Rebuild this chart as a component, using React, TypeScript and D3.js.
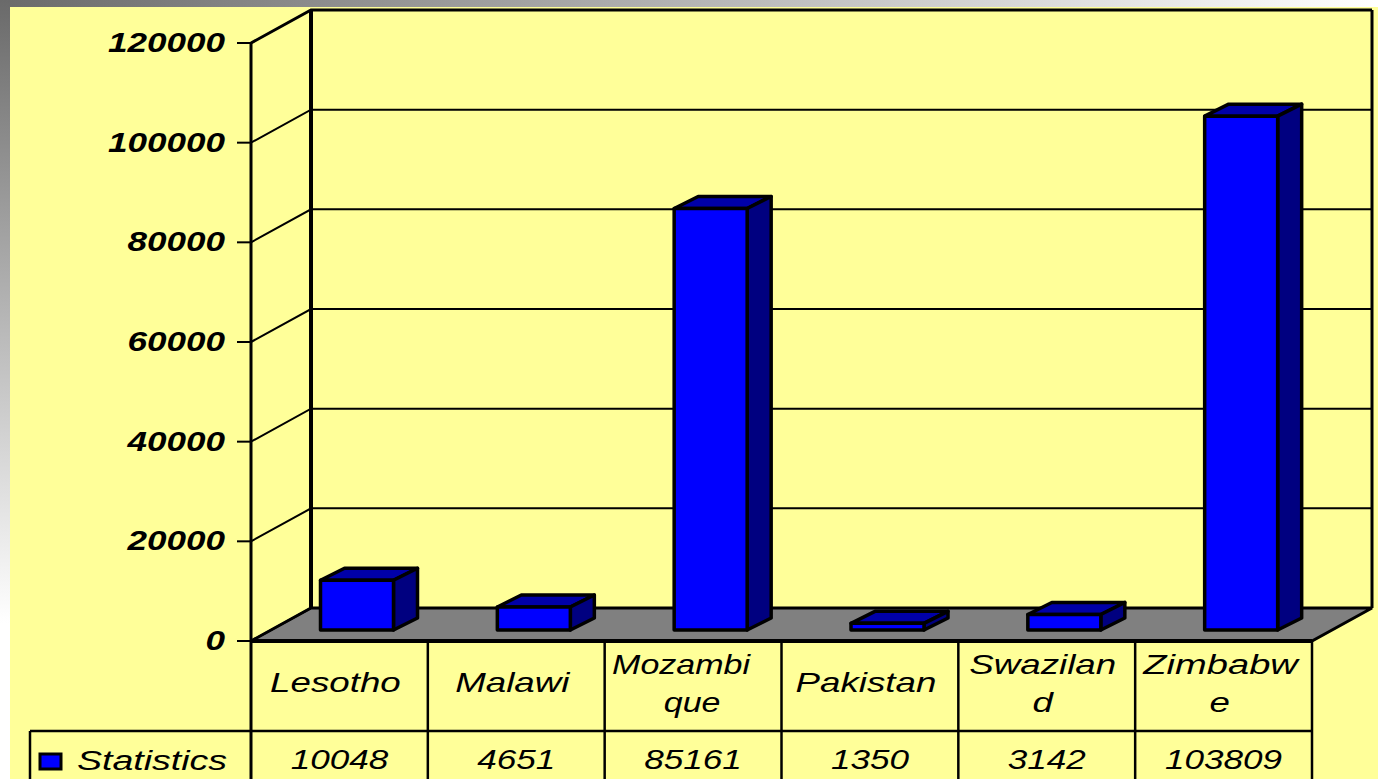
import * as d3 from 'd3';

const categories = ['Lesotho', 'Malawi', 'Mozambique', 'Pakistan', 'Swaziland', 'Zimbabwe'];
const categoryLines = [['Lesotho'], ['Malawi'], ['Mozambi', 'que'], ['Pakistan'], ['Swazilan', 'd'], ['Zimbabw', 'e']];
const statistics = [10048, 4651, 85161, 1350, 3142, 103809];
const yTicks = [0, 20000, 40000, 60000, 80000, 100000, 120000];
const seriesName = 'Statistics';

const width = 1378;
const height = 779;
const font = "'Liberation Sans', Arial, sans-serif";

// 3d offsets: wall depth and bar depth
const wallDx = 60;
const wallDy = -33;
const barDx = 24;
const barDy = -12;
const barInset = 69.5;
const barWidth = 73;

const x = d3.scaleBand<string>().domain(categories).range([251, 1312]);
const y = d3.scaleLinear().domain([0, 120000]).range([641, 43]);
// bars stand a bit forward on the floor, so they get their own scale
const yBar = d3.scaleLinear().domain([0, 120000]).range([630, 36]);
const pts = (list: [number, number][]) => list.map((p) => p.join(',')).join(' ');

// the original wraps and spaces these words unevenly
const wordFit: Record<string, { stretch?: number; shift?: number }> = {
  Mozambi: { stretch: 1.26, shift: -12 },
  que: { stretch: 1.26, shift: -1 },
  Zimbabw: { stretch: 1.41, shift: -3 },
};

function Label({ cx, cy, text, size = 27, bold = false, stretch = 1.3, anchor = 'middle' }: {
  cx: number; cy: number; text: string; size?: number; bold?: boolean; stretch?: number; anchor?: string;
}) {
  return (
    <text
      transform={`translate(${cx},${cy}) scale(${stretch},1)`}
      textAnchor={anchor}
      dominantBaseline="central"
      fontFamily={font}
      fontStyle="italic"
      fontWeight={bold ? 700 : 400}
      fontSize={size}
      fill="#000"
    >
      {text}
    </text>
  );
}

export default function App() {
  const x0 = x.range()[0];
  const x1 = x.range()[1];
  const y0 = y(0);
  const yTop = y(120000);
  const tableRow = 731;

  return (
    <svg
      width={width}
      height={height}
      viewBox={`0 0 ${width} ${height}`}
      style={{ position: 'fixed', left: 0, top: 0, display: 'block' }}
    >
      <defs>
        <linearGradient id="edgeTop" x1="0" x2="1" y1="0" y2="0">
          <stop offset="0" stopColor="#6a6a6a" />
          <stop offset="1" stopColor="#ffffff" />
        </linearGradient>
        <linearGradient id="edgeLeft" x1="0" x2="0" y1="0" y2="1">
          <stop offset="0" stopColor="#6a6a6a" />
          <stop offset="0.8" stopColor="#ffffff" />
          <stop offset="1" stopColor="#ffffff" />
        </linearGradient>
      </defs>
      <rect width={width} height={height} fill="#FFFF99" />
      <rect width={width} height={7} fill="url(#edgeTop)" />
      <rect width={10} height={height} fill="url(#edgeLeft)" />

      {/* floor */}
      <polygon
        points={pts([[x0, y0], [x0 + wallDx, y0 + wallDy], [x1 + wallDx, y0 + wallDy], [x1, y0]])}
        fill="#808080"
        stroke="#000"
        strokeWidth={3}
      />

      {/* gridlines on the two walls, plus tick marks */}
      {yTicks.map((t) => (
        <g key={t}>
          <line x1={x0 - 14} x2={x0} y1={y(t)} y2={y(t)} stroke="#000" strokeWidth={2} />
          <polyline
            points={pts([[x0, y(t)], [x0 + wallDx, y(t) + wallDy], [x1 + wallDx, y(t) + wallDy]])}
            fill="none"
            stroke="#000"
            strokeWidth={t === 120000 ? 3 : 2}
          />
          <Label cx={225} cy={y(t)} text={String(t)} size={27} bold anchor="end" stretch={1.3} />
        </g>
      ))}

      {/* wall edges */}
      <line x1={x0} x2={x0} y1={yTop} y2={height} stroke="#000" strokeWidth={3} />
      <line x1={x0 + wallDx} x2={x0 + wallDx} y1={yTop + wallDy} y2={y0 + wallDy} stroke="#000" strokeWidth={4} />
      <line x1={x1 + wallDx} x2={x1 + wallDx} y1={yTop + wallDy} y2={y0 + wallDy} stroke="#000" strokeWidth={3} />

      {/* bars */}
      {categories.map((c, i) => {
        const left = (x(c) ?? 0) + barInset;
        const right = left + barWidth;
        const top = yBar(statistics[i]);
        const base = yBar(0);
        return (
          <g key={c} stroke="#000" strokeWidth={3.5} strokeLinejoin="round">
            <polygon
              points={pts([[left, top], [left + barDx, top + barDy], [right + barDx, top + barDy], [right, top]])}
              fill="#0000A8"
            />
            <polygon
              points={pts([[right, top], [right + barDx, top + barDy], [right + barDx, base + barDy], [right, base]])}
              fill="#000080"
            />
            <rect x={left} y={top} width={barWidth} height={base - top} fill="#0000FF" />
          </g>
        );
      })}

      {/* data table */}
      <line x1={x0} x2={x1} y1={y0} y2={y0} stroke="#000" strokeWidth={4} />
      <line x1={30} x2={x1} y1={tableRow} y2={tableRow} stroke="#000" strokeWidth={2.5} />
      <line x1={30} x2={30} y1={tableRow} y2={height} stroke="#000" strokeWidth={2.5} />
      {categories.map((c) => {
        const edge = (x(c) ?? 0) + x.bandwidth();
        return <line key={c} x1={edge} x2={edge} y1={y0} y2={height} stroke="#000" strokeWidth={2.5} />;
      })}
      {categories.map((c, i) => {
        const cx = (x(c) ?? 0) + x.bandwidth() / 2;
        const lines = categoryLines[i];
        return (
          <g key={c}>
            {lines.map((line, k) => (
              <Label
                key={line}
                cx={cx + (wordFit[line]?.shift ?? -4)}
                cy={lines.length === 1 ? 683 : 665 + k * 38}
                text={line}
                stretch={wordFit[line]?.stretch ?? 1.36}
              />
            ))}
            <Label cx={cx} cy={760} text={String(statistics[i])} />
          </g>
        );
      })}
      <rect x={40} y={754} width={21} height={15} fill="#0000FF" stroke="#000" strokeWidth={3} />
      <Label cx={77} cy={761} text={seriesName} anchor="start" stretch={1.39} />
    </svg>
  );
}
